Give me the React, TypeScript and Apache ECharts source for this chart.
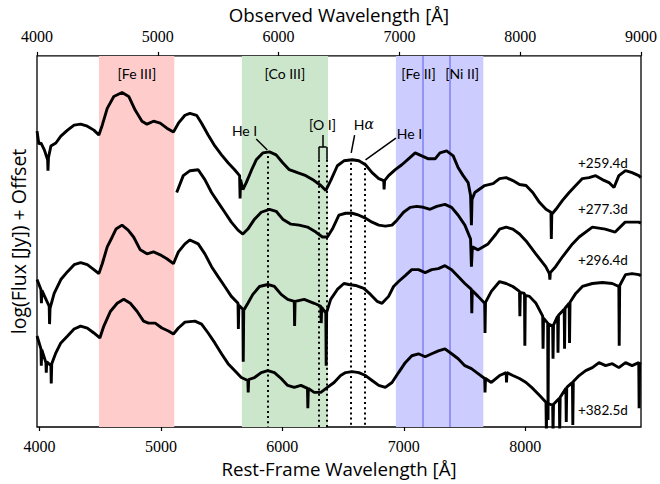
import React, { useEffect, useRef } from 'react';
import * as echarts from 'echarts';

// Rest-frame range of the plot and observed-frame range of the top axis
const restRange = [3979.6, 8953.5];
const obsRange = [4000, 9000];
const restTicks = [4000, 5000, 6000, 7000, 8000];

// Shaded regions (rest-frame Å)
const bandNames = ['[Fe III]', '[Co III]', '[Fe II] [Ni II]'];
const bandFrom = [4490, 5667, 6935];
const bandTo = [5110, 6376, 7655];

// Lines
const blueLines = [7155, 7378];
const dottedLines = [5876, 6300, 6364, 6563, 6678];
const dottedTops = [27.9, 27.0, 27.0, 26.7, 26.7];

// Phase labels
const phases = ['+259.4d', '+277.3d', '+296.4d', '+382.5d'];
const phaseY = [26.7, 22.0, 16.9, 1.7];

// Spectra: [rest wavelength Å, log flux + offset]
const spec259: [number, number][] = [
  [3980, 29.9], [3995, 28.6], [4012, 28.7], [4040, 28.0], [4067, 27.0], [4070, 25.9], [4074, 27.2], [4094, 28.4],
  [4135, 28.7], [4176, 29.4], [4231, 30.0], [4285, 30.5], [4339, 30.6], [4394, 30.4], [4448, 30.0], [4489, 29.5],
  [4517, 30.5], [4558, 32.2], [4612, 33.4], [4680, 33.8], [4735, 33.4], [4789, 32.0], [4844, 30.9], [4885, 30.6],
  [4939, 30.9], [4994, 30.7], [5049, 30.2], [5103, 29.8], [5144, 30.7], [5198, 31.5], [5239, 31.7], [5294, 31.5],
  [5335, 30.7], [5389, 29.5], [5444, 28.4], [5499, 27.5], [5553, 26.7], [5607, 26.0], [5648, 25.4], [5652, 23.1],
  [5656, 25.0], [5675, 24.0], [5703, 24.7], [5744, 25.9], [5785, 27.0], [5839, 27.7], [5894, 27.8], [5949, 27.5],
  [6003, 26.7], [6057, 26.0], [6125, 25.7], [6194, 25.4], [6262, 24.9], [6317, 24.4], [6358, 23.9], [6398, 24.9],
  [6453, 26.4], [6507, 26.9], [6575, 27.0], [6630, 26.9], [6685, 26.5], [6739, 25.7], [6794, 25.1], [6835, 24.9],
  [6838, 24.0], [6842, 24.9], [6875, 25.4], [6930, 26.0], [6984, 26.5], [7039, 27.1], [7094, 27.7], [7148, 27.4],
  [7203, 27.1], [7258, 27.1], [7298, 27.7], [7353, 27.9], [7407, 27.4], [7448, 26.2], [7489, 25.4], [7530, 24.7],
  [7550, 23.4], [7557, 20.4], [7562, 23.0], [7585, 23.7], [7666, 24.4], [7735, 24.6], [7789, 25.1], [7843, 25.2],
  [7898, 24.9], [7953, 24.5], [8007, 24.4], [8062, 23.7], [8117, 22.7], [8171, 22.0], [8212, 21.7], [8215, 19.0],
  [8219, 21.5], [8253, 22.0], [8307, 22.9], [8362, 23.7], [8416, 24.4], [8471, 25.1], [8526, 25.2], [8580, 25.4],
  [8635, 25.0], [8690, 24.7], [8731, 24.2], [8771, 25.4], [8826, 25.9], [8880, 25.7], [8935, 25.4], [8953, 25.2],
];

const spec277: [number, number][] = [
  [5130, 23.7], [5184, 25.4], [5240, 25.9], [5307, 26.0], [5362, 25.0], [5417, 23.7], [5471, 22.7], [5526, 21.7],
  [5580, 20.7], [5635, 19.9], [5675, 19.5], [5716, 20.0], [5771, 21.0], [5826, 21.7], [5894, 22.0], [5949, 21.8],
  [6003, 21.0], [6071, 20.5], [6139, 20.4], [6207, 20.2], [6276, 19.7], [6330, 19.2], [6371, 19.2], [6412, 20.0],
  [6466, 21.4], [6521, 21.6], [6575, 21.6], [6630, 21.4], [6685, 21.1], [6739, 20.7], [6794, 20.4], [6848, 20.3],
  [6903, 20.4], [6944, 20.9], [6998, 21.7], [7053, 22.2], [7107, 22.3], [7162, 22.2], [7217, 22.0], [7271, 22.3],
  [7339, 22.5], [7394, 22.2], [7448, 21.4], [7503, 20.4], [7550, 19.0], [7557, 16.2], [7565, 18.2], [7612, 17.9],
  [7694, 18.5], [7760, 19.5], [7789, 20.0], [7843, 20.2], [7898, 20.0], [7953, 19.5], [8007, 18.8], [8087, 17.5],
  [8169, 16.2], [8199, 15.5], [8203, 14.9], [8207, 15.6], [8250, 16.2], [8307, 17.2], [8389, 18.5], [8444, 19.2],
  [8553, 20.2], [8659, 20.0], [8741, 19.7], [8823, 20.7], [8935, 20.7], [8953, 20.6],
];

const spec296: [number, number][] = [
  [3980, 14.9], [4012, 13.9], [4016, 12.5], [4020, 13.8], [4050, 13.0], [4080, 12.2], [4083, 10.4], [4087, 12.0],
  [4121, 13.5], [4176, 14.9], [4231, 15.7], [4285, 16.4], [4339, 16.6], [4394, 16.4], [4448, 15.9], [4489, 15.5],
  [4517, 16.5], [4558, 18.2], [4599, 19.2], [4630, 20.0], [4680, 20.4], [4730, 19.9], [4775, 19.2], [4830, 17.9],
  [4885, 17.5], [4939, 17.7], [4994, 17.4], [5049, 17.0], [5103, 16.5], [5144, 17.7], [5198, 18.5], [5239, 18.9],
  [5307, 18.5], [5362, 17.5], [5417, 16.2], [5471, 15.2], [5526, 14.2], [5580, 13.2], [5635, 12.5], [5638, 9.9],
  [5642, 12.3], [5675, 11.9], [5678, 6.6], [5682, 11.8], [5716, 12.5], [5757, 13.4], [5812, 14.2], [5880, 14.4],
  [5935, 14.2], [5990, 13.4], [6044, 12.9], [6098, 12.7], [6101, 10.2], [6105, 12.7], [6180, 12.9], [6262, 12.5],
  [6317, 12.2], [6320, 10.5], [6324, 12.1], [6358, 11.5], [6361, 6.2], [6365, 11.6], [6398, 12.9], [6453, 13.9],
  [6507, 14.5], [6548, 14.4], [6603, 14.3], [6671, 14.0], [6726, 13.4], [6780, 12.7], [6821, 12.5], [6875, 13.2],
  [6916, 14.2], [6957, 14.7], [7012, 15.3], [7066, 15.9], [7121, 15.9], [7176, 15.6], [7230, 15.9], [7285, 16.0],
  [7339, 16.3], [7394, 15.9], [7448, 15.2], [7503, 14.5], [7557, 13.9], [7560, 11.5], [7564, 13.8], [7612, 13.2],
  [7666, 12.5], [7669, 9.5], [7673, 12.6], [7721, 13.7], [7789, 14.7], [7843, 14.5], [7898, 14.2], [7953, 13.7],
  [7956, 11.2], [7960, 13.6], [7994, 13.5], [7997, 8.2], [8001, 13.3], [8035, 13.2], [8089, 12.5], [8144, 11.2],
  [8147, 7.9], [8151, 11.0], [8185, 10.5], [8188, 0.7], [8192, 10.4], [8226, 10.2], [8229, 6.9], [8233, 10.3],
  [8267, 11.2], [8270, 7.5], [8274, 11.3], [8321, 11.9], [8324, 7.9], [8328, 12.0], [8362, 12.5], [8365, 8.5],
  [8369, 12.6], [8416, 13.5], [8471, 14.2], [8553, 14.5], [8635, 14.6], [8717, 14.5], [8771, 14.2], [8774, 8.2],
  [8778, 14.3], [8826, 15.4], [8880, 15.5], [8935, 15.4], [8953, 15.3],
];

const spec382: [number, number][] = [
  [3980, 9.2], [4012, 7.9], [4015, 6.2], [4019, 7.8], [4053, 6.5], [4056, 5.5], [4060, 6.6], [4094, 6.2],
  [4097, 4.4], [4101, 6.4], [4135, 7.5], [4176, 8.5], [4231, 9.2], [4285, 9.9], [4339, 10.2], [4394, 10.0],
  [4448, 9.5], [4497, 9.0], [4530, 10.2], [4585, 11.7], [4640, 12.5], [4694, 12.9], [4748, 12.5], [4803, 11.7],
  [4857, 10.7], [4898, 10.5], [4953, 10.5], [5008, 10.0], [5062, 9.7], [5103, 9.4], [5144, 10.0], [5198, 10.6],
  [5280, 10.7], [5335, 10.4], [5389, 9.5], [5444, 8.5], [5499, 7.4], [5553, 6.4], [5607, 5.7], [5662, 5.0],
  [5716, 4.7], [5719, 3.5], [5723, 4.8], [5771, 5.0], [5826, 5.5], [5880, 5.7], [5935, 5.5], [5990, 4.9],
  [6044, 4.2], [6098, 4.0], [6153, 4.2], [6207, 3.9], [6210, 1.9], [6214, 3.9], [6262, 3.5], [6317, 3.5],
  [6371, 4.0], [6426, 4.5], [6480, 5.2], [6521, 5.5], [6575, 5.6], [6630, 5.5], [6685, 5.2], [6739, 4.7],
  [6794, 4.2], [6848, 4.0], [6903, 4.5], [6957, 5.5], [7012, 6.5], [7066, 7.2], [7121, 7.4], [7176, 7.1],
  [7230, 7.4], [7285, 7.7], [7339, 7.9], [7394, 7.4], [7448, 6.9], [7503, 6.2], [7557, 5.9], [7612, 5.4],
  [7666, 4.9], [7669, 3.5], [7673, 4.9], [7721, 4.5], [7789, 5.2], [7843, 5.5], [7846, 4.5], [7850, 5.5],
  [7898, 5.2], [7953, 4.9], [8007, 4.5], [8062, 3.9], [8117, 3.2], [8171, 2.5], [8174, -0.5], [8178, 2.4],
  [8226, 2.2], [8229, -0.5], [8233, 2.3], [8281, 2.9], [8284, -0.5], [8288, 3.0], [8335, 3.9], [8338, 0.5],
  [8342, 4.0], [8389, 4.5], [8392, 0.2], [8396, 4.6], [8444, 5.2], [8498, 5.7], [8553, 6.0], [8608, 6.5],
  [8662, 6.2], [8717, 6.4], [8771, 6.0], [8826, 6.5], [8880, 6.2], [8935, 6.5], [8938, 1.9], [8942, 6.4],
  [8953, 6.5],
];

const SANS = 'Lato, "Open Sans", sans-serif';
const TITLE = '"Open Sans", Lato, sans-serif';
const SERIF = '"Liberation Serif", "DejaVu Serif", serif';

export default function App() {
  const ref = useRef<HTMLDivElement>(null);

  useEffect(() => {
    if (!ref.current) return;
    const chart = echarts.init(ref.current, undefined, { renderer: 'svg' });

    const bandColors = ['#ffcccc', '#cce6cc', '#ccccff'];
    const yMax = 37.5;

    const specLine = (name: string, data: [number, number][]) => ({
      name,
      type: 'line',
      data,
      symbol: 'none',
      z: 5,
      lineStyle: { color: '#000', width: 2.9 },
      clip: true,
      silent: true,
    });

    const textItem = (text: string, x: number, y: number, pos: string = 'inside', size = 14) => ({
      coord: [x, y],
      value: text,
      symbol: 'rect',
      symbolSize: 1,
      itemStyle: { color: 'rgba(0,0,0,0)' },
      label: {
        show: true,
        position: pos,
        distance: 0,
        formatter: text,
        color: '#000',
        fontFamily: SANS,
        fontSize: size,
        rich: {
          it: { fontStyle: 'italic', fontFamily: '"DejaVu Serif", serif', fontSize: size, color: '#000' },
        },
      },
    });

    const tickFmt = (v: number) => String(Math.round(v));

    const option: any = {
      animation: false,
      grid: {
        left: 35,
        right: 15,
        top: 53,
        bottom: 57,
        show: true,
        borderColor: '#000',
        borderWidth: 1.3,
        backgroundColor: 'transparent',
      },
      xAxis: [
        {
          type: 'value',
          min: restRange[0],
          max: restRange[1],
          position: 'bottom',
          axisLine: { show: false },
          splitLine: { show: false },
          axisTick: { show: true, length: 4, customValues: restTicks, lineStyle: { color: '#000', width: 1.2 } },
          axisLabel: {
            customValues: restTicks,
            formatter: tickFmt,
            color: '#000',
            fontFamily: SERIF,
            fontSize: 16,
            margin: 11,
          },
          name: 'Rest-Frame Wavelength [Å]',
          nameLocation: 'middle',
          nameGap: 30,
          nameTextStyle: { color: '#000', fontFamily: TITLE, fontSize: 18.7 },
        },
        {
          type: 'value',
          min: obsRange[0],
          max: obsRange[1],
          interval: 1000,
          position: 'top',
          axisLine: { show: false },
          splitLine: { show: false },
          axisTick: { show: true, length: 4, lineStyle: { color: '#000', width: 1.2 } },
          axisLabel: { formatter: tickFmt, color: '#000', fontFamily: SERIF, fontSize: 16, margin: 11 },
          name: 'Observed Wavelength [Å]',
          nameLocation: 'middle',
          nameGap: 30,
          nameTextStyle: { color: '#000', fontFamily: TITLE, fontSize: 18.7 },
        },
      ],
      yAxis: {
        type: 'value',
        min: 0,
        max: yMax,
        axisLine: { show: false },
        axisTick: { show: false },
        axisLabel: { show: false },
        splitLine: { show: false },
        name: 'log(Flux [Jy]) + Offset',
        nameLocation: 'middle',
        nameGap: 9,
        nameTextStyle: { color: '#000', fontFamily: TITLE, fontSize: 19.5 },
      },
      series: [
        {
          name: 'bands',
          type: 'line',
          data: [],
          z: 1,
          silent: true,
          markArea: {
            silent: true,
            z: 1,
            label: { show: false },
            data: bandFrom.map((f, i) => [
              { xAxis: f, itemStyle: { color: bandColors[i] }, name: bandNames[i] },
              { xAxis: bandTo[i] },
            ]),
          },
        },
        {
          name: 'blueLines',
          type: 'line',
          data: [],
          z: 2,
          silent: true,
          markLine: {
            silent: true,
            symbol: ['none', 'none'],
            label: { show: false },
            lineStyle: { color: '#8585f5', width: 1.6, type: 'solid' },
            data: blueLines.map((w) => [{ coord: [w, 0] }, { coord: [w, yMax] }]),
          },
        },
        {
          name: 'dotted',
          type: 'line',
          data: [],
          z: 3,
          silent: true,
          markLine: {
            silent: true,
            symbol: ['none', 'none'],
            label: { show: false },
            lineStyle: { color: '#000', width: 2, type: [2, 3.2] },
            data: dottedLines.map((w, i) => [{ coord: [w, dottedTops[i]] }, { coord: [w, 0] }]),
          },
        },
        {
          name: 'leaders',
          type: 'line',
          data: [],
          z: 4,
          silent: true,
          markLine: {
            silent: true,
            symbol: ['none', 'none'],
            label: { show: false },
            lineStyle: { color: '#000', width: 1.5, type: 'solid' },
            data: [
              [{ coord: [5785, 29.1] }, { coord: [5876, 28.0] }],
              [{ coord: [6332, 29.5] }, { coord: [6332, 28.3] }],
              [{ coord: [6300, 28.3] }, { coord: [6364, 28.3] }],
              [{ coord: [6300, 28.3] }, { coord: [6300, 27.0] }],
              [{ coord: [6364, 28.3] }, { coord: [6364, 27.0] }],
              [{ coord: [6595, 29.5] }, { coord: [6567, 27.7] }],
              [{ coord: [6935, 29.2] }, { coord: [6685, 27.0] }],
            ],
          },
          markPoint: {
            silent: true,
            data: [
              textItem('[Fe III]', 4802, 35.7),
              textItem('[Co III]', 6021, 35.7),
              textItem('[Fe II]', 7121, 35.7),
              textItem('[Ni II]', 7481, 35.7),
              textItem('He I', 5689, 30.0),
              textItem('[O I]', 6331, 30.6),
              textItem('H{it|α}', 6671, 30.6),
              textItem('He I', 7047, 29.7),
              ...phases.map((p, i) => textItem(p, 8430, phaseY[i], 'right', 13.5)),
            ],
          },
        },
        specLine(phases[0], spec259),
        specLine(phases[1], spec277),
        specLine(phases[2], spec296),
        specLine(phases[3], spec382),
      ],
    };

    chart.setOption(option);
    return () => chart.dispose();
  }, []);

  return (
    <div
      ref={ref}
      style={{ position: 'absolute', left: 0, top: 0, width: 660, height: 484, background: '#fff' }}
    />
  );
}
